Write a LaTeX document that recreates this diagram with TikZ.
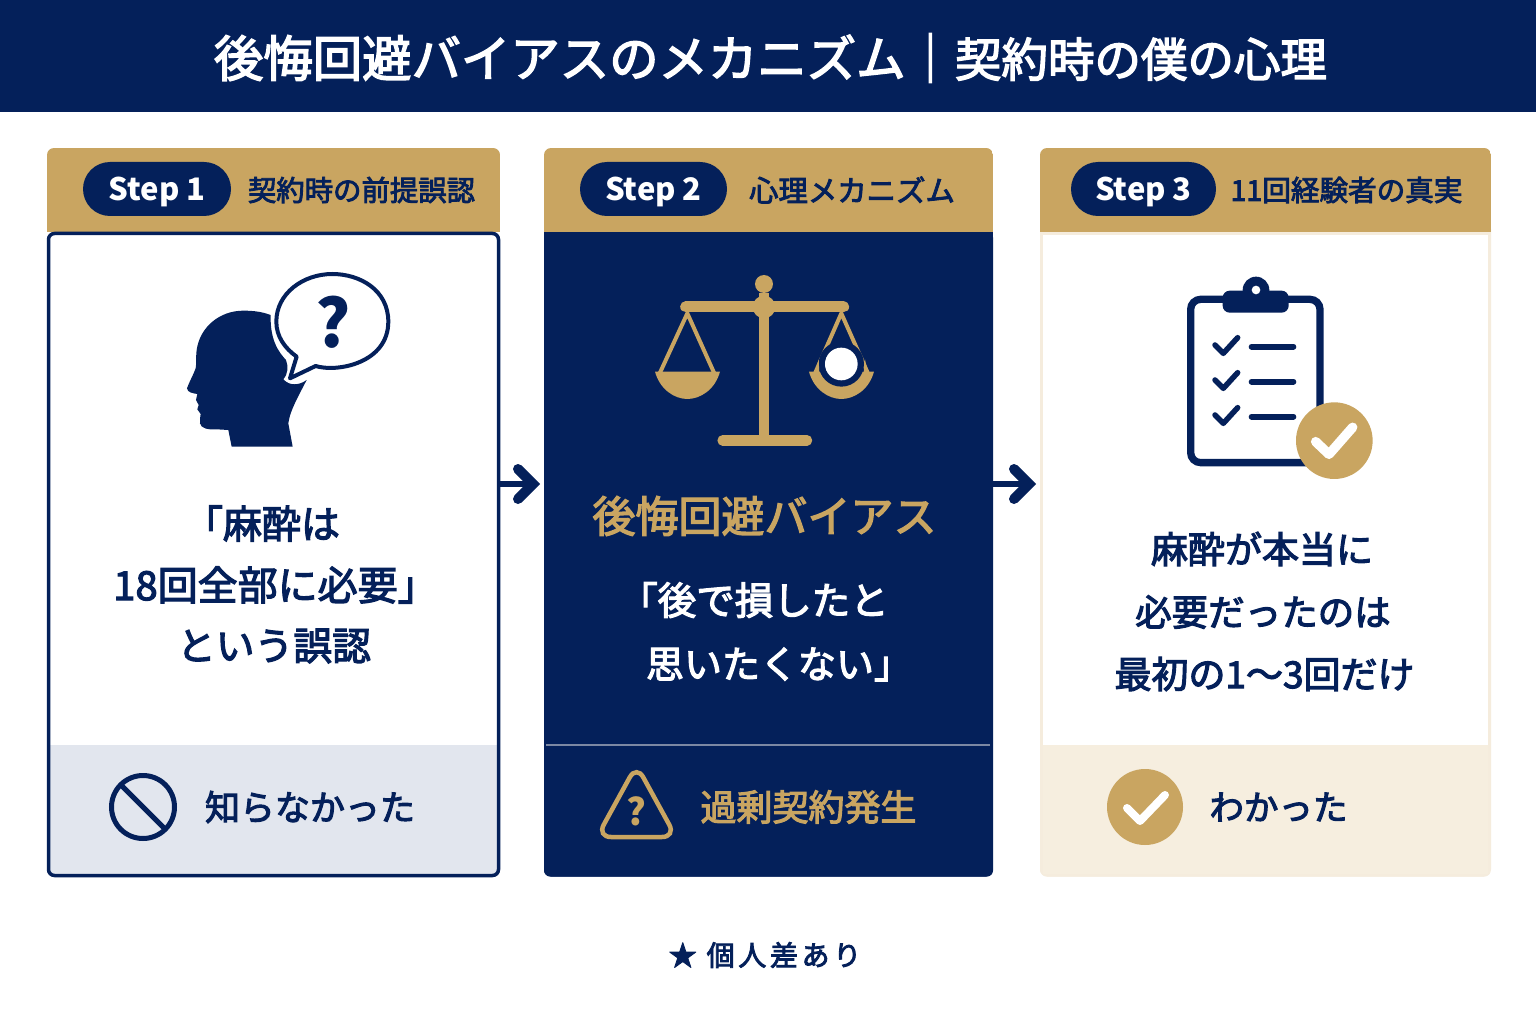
\documentclass[tikz,border=0pt]{standalone}
\usepackage{fontspec}
\usetikzlibrary{calc}
\setmainfont{Noto Sans CJK JP}[UprightFeatures={FakeBold=3}]
\newcommand\fs[1]{\fontsize{#1}{#1}\selectfont}
\definecolor{navy}{HTML}{04205A}
\definecolor{gold}{HTML}{C9A561}
\definecolor{paleblue}{HTML}{E2E6EE}
\definecolor{palegold}{HTML}{F6EEDF}
\definecolor{paleedge}{HTML}{F5ECDD}
\definecolor{rulegrey}{HTML}{7C88A3}
\tikzset{
  txt/.style={inner sep=0pt,outer sep=0pt,anchor=center},
  navytxt/.style={txt,text=navy},
  goldtxt/.style={txt,text=gold},
  pill/.style={fill=navy,rounded corners=27pt,minimum height=54pt,inner sep=0pt,text=white,text height=23pt,text depth=0pt,font=\bfseries\fs{31}},
  cardbox/.style={inner sep=0pt,outer sep=0pt,rounded corners=6pt},
  flow/.style={draw=navy,line width=6pt},
  flowhead/.style={draw=navy,line width=10pt,line cap=round,miter limit=10},
  zoomscope/.style={x=0.3333pt,y=-0.3333pt}
}
\begin{document}
\begin{tikzpicture}[x=1pt,y=-1pt]
\useasboundingbox (0,0) rectangle (1536,1024);
\fill[white] (0,0) rectangle (1536,1024);
% banner
\fill[navy] (0,0) rectangle (1536,112);
\node[txt,anchor=west,text=white] (title) at (214,58) {\fs{49.4}後悔回避バイアスのメカニズム｜\fs{46.5}契約時の僕の心理};

% card 1
\node[cardbox,fill=white,minimum width=450pt,minimum height=642pt] (box1) at (273.5,554.5) {};
\begin{scope}
\clip[rounded corners=7pt] (47,148) rectangle (500,876.5);
\fill[gold] (47,148) rectangle (500,232);
\fill[paleblue] (47,745) rectangle (500,876.5);
\end{scope}
\draw[navy,line width=3.5pt,rounded corners=6pt] (box1.south west) rectangle (box1.north east);
% card 2
\node[cardbox,fill=navy,minimum width=449pt,minimum height=645pt] (box2) at (768.5,554) {};
\begin{scope}
\clip[rounded corners=7pt] (544,148) rectangle (993,876.5);
\fill[navy] (544,200) rectangle (993,876.5);
\fill[gold] (544,148) rectangle (993,232);
\end{scope}
\draw[rulegrey,line width=1.2pt] (546,745) -- (990,745);
% card 3
\node[cardbox,fill=white,minimum width=451pt,minimum height=645pt] (box3) at (1265.5,554) {};
\begin{scope}
\clip[rounded corners=7pt] (1040,148) rectangle (1491,876.5);
\fill[palegold] (1040,745) rectangle (1491,876.5);
\draw[paleedge,line width=6pt] (1040,232) rectangle (1491,876.5);
\fill[gold] (1040,148) rectangle (1491,232);
\end{scope}

% pills and step captions
\node[pill,minimum width=148pt] (p1) at (157,189) {Step 1};
\node[pill,minimum width=147pt] (p2) at (653.5,189) {Step 2};
\node[pill,minimum width=145pt] (p3) at (1143.5,189) {Step 3};
\node[navytxt] (h1) at (361.5,190) {\fs{28.4}契約時の前提誤認};
\node[navytxt] (h2) at (852,190) {\fs{29.4}心理メカニズム};
\node[navytxt] (h3) at (1346.5,190) {\fs{28.6}11回経験者の真実};

% arrows
\coordinate (row) at (0,484);
\draw[flow] (box1.east |- row) -- ($(box2.west |- row)+(-11,0)$);
\draw[flowhead] ($(box2.west |- row)+(-26,-15)$) -- ($(box2.west |- row)+(-11,0)$) -- ($(box2.west |- row)+(-26,15)$);
\draw[flow] (box2.east |- row) -- ($(box3.west |- row)+(-11,0)$);
\draw[flowhead] ($(box3.west |- row)+(-26,-15)$) -- ($(box3.west |- row)+(-11,0)$) -- ($(box3.west |- row)+(-26,15)$);

% head and bubble
\begin{scope}[shift={(150,260)},zoomscope]
\fill[navy] (362,165) .. controls (335,155) and (310,152) .. (280,152)
  .. controls (210,152) and (150,200) .. (140,270)
  .. controls (137,295) and (140,310) .. (137,325)
  .. controls (130,345) and (118,365) .. (111,385)
  .. controls (112,398) and (130,400) .. (142,402)
  -- (138,420) -- (146,435) -- (142,448) -- (152,462)
  .. controls (150,475) and (150,482) .. (150,490)
  .. controls (152,505) and (175,510) .. (200,508)
  -- (235,510) -- (245,560) -- (428,560) -- (415,490)
  .. controls (420,450) and (450,400) .. (470,360)
  .. controls (450,375) and (420,380) .. (400,358)
  .. controls (415,340) and (415,320) .. (408,300)
  .. controls (385,275) and (360,240) .. (362,165) -- cycle;
\draw[navy,fill=white,line width=4pt,line join=round] (497,318)
  .. controls (560,338) and (715,310) .. (715,185)
  .. controls (715,90) and (630,42) .. (547,42)
  .. controls (460,42) and (379,100) .. (379,185)
  .. controls (379,230) and (405,265) .. (440,290)
  -- (420,355) -- cycle;
\end{scope}
\node[navytxt] (qm) at (333,322) {\bfseries\fs{66}?};

% scales
\begin{scope}[shift={(640,260)},zoomscope]
\fill[gold] (356,100) rectangle (388,535);
\fill[gold] (372,72) circle (27);
\draw[gold,line width=11pt,line cap=round] (137,141) -- (611,141);
\fill[gold] (372,141) circle (34);
\draw[gold,line width=10.5pt,line cap=round] (248,541) -- (501,541);
\draw[gold,line width=4pt] (60,338) -- (142,160) -- (222,338);
\fill[gold] (45,335) -- (240,335) .. controls (225,390) and (180,417) .. (142,417) .. controls (105,417) and (60,390) .. (45,335) -- cycle;
\draw[gold,line width=4pt] (526,338) -- (604,160) -- (683,338);
\fill[gold] (507,335) -- (702,335) .. controls (687,390) and (642,417) .. (604,417) .. controls (567,417) and (522,390) .. (507,335) -- cycle;
\fill[navy] (604,312) circle (68);
\fill[gold] (526,338) -- (536,298) -- (538,340) -- cycle;
\fill[gold] (683,338) -- (675,298) -- (671,340) -- cycle;
\fill[white] (604,312) circle (49);
\end{scope}

% clipboard
\begin{scope}[shift={(1170,265)},zoomscope]
\draw[navy,line width=7.3pt,rounded corners=10pt] (62,103) rectangle (450,593);
\fill[navy,rounded corners=7pt] (158,77) rectangle (356,143);
\fill[navy] (258,75) circle (40);
\fill[white] (258,75) circle (13);
\foreach \d in {0,105,210}{
  \draw[navy,line width=5.5pt,line cap=round,line join=round] (135,{240+\d}) -- (160,{265+\d}) -- (203,{218+\d});
  \draw[navy,line width=6pt,line cap=round] (245,{245+\d}) -- (370,{245+\d});
}
\fill[gold] (493,527) circle (115);
\draw[white,line width=9.5pt,line cap=round,line join=round] (437,530) -- (477,568) -- (548,487);
\end{scope}

% body text
\node[navytxt] (t11) at (262,523.5) {\fs{39}「麻酔は};
\node[navytxt] (t12) at (275.5,585) {\fs{40}18回全部に必要」};
\node[navytxt] (t13) at (274,646) {\fs{38.8}という誤認};
\node[goldtxt] (t21) at (764.5,516) {\fs{43}後悔回避バイアス};
\node[txt,text=white] (t22) at (754,600) {\fs{38.5}「後で損したと};
\node[txt,text=white] (t23) at (779,664.5) {\fs{38}思いたくない」};
\node[navytxt] (t31) at (1262,549) {\fs{37}麻酔が本当に};
\node[navytxt] (t32) at (1263,612) {\fs{36.5}必要だったのは};
\node[navytxt] (t33) at (1264.5,674) {\fs{37}最初の1〜3回だけ};

% footer icons and text
\draw[navy,line width=5pt] (143,807) circle (31.5);
\draw[navy,line width=5pt] (120,784) -- (166,830);
\node[navytxt] (f1) at (310,807) {\fs{35}知らなかった};
\draw[gold,line width=4.5pt,rounded corners=14pt] (636.5,765) -- (676,837) -- (597,837) -- cycle;
\node[goldtxt] (fq) at (636.5,811) {\bfseries\fs{37}?};
\node[goldtxt] (f2) at (808.5,807) {\fs{36}過剰契約発生};
\fill[gold] (1145,807) circle (38);
\draw[white,line width=8pt,line cap=round,line join=round] (1127,808) -- (1140,821) -- (1165,795);
\node[navytxt] (f3) at (1278.5,807) {\fs{34.5}わかった};

% note
\node[navytxt] (note) at (765,955) {\fs{28}\addfontfeature{LetterSpace=13}★ 個人差あり};
\end{tikzpicture}
\end{document}
